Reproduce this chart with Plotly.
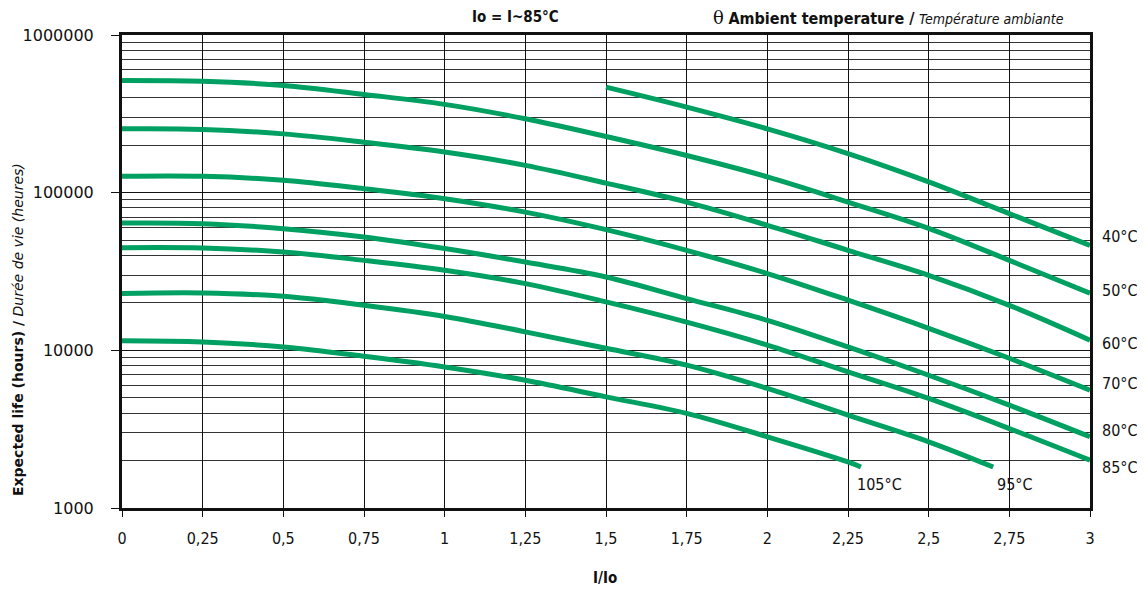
import plotly.graph_objects as go

# ---- data ----
x_full = [0, 0.25, 0.5, 0.75, 1.0, 1.25, 1.5, 1.75, 2.0, 2.25, 2.5, 2.75, 3.0]

x_40 = [1.5, 1.75, 2.0, 2.25, 2.5, 2.75, 3.0]
life_40 = [467000, 349000, 254000, 177000, 117000, 73600, 46300]

life_50 = [515000, 509000, 479000, 420000, 363000, 294000, 227000, 172000, 126000, 87200, 59400, 37200, 23000]
life_60 = [254000, 252000, 236000, 209000, 181000, 149000, 115000, 87200, 62100, 43100, 29900, 19300, 11600]
life_70 = [127000, 127000, 120000, 106000, 91600, 75300, 58300, 43100, 30700, 20800, 13800, 8910, 5590]
life_80 = [64200, 63600, 59100, 52300, 44200, 36300, 29200, 21300, 15500, 10500, 6950, 4490, 2830]
life_85 = [44800, 44600, 42000, 37200, 32200, 26500, 20300, 15100, 10800, 7300, 4950, 3190, 2010]

x_95 = [0, 0.25, 0.5, 0.75, 1.0, 1.25, 1.5, 1.75, 2.0, 2.25, 2.5, 2.7]
life_95 = [22900, 23100, 22000, 19300, 16400, 13100, 10300, 8050, 5730, 3880, 2630, 1820]

x_105 = [0, 0.25, 0.5, 0.75, 1.0, 1.25, 1.5, 1.75, 2.0, 2.25, 2.29]
life_105 = [11500, 11300, 10500, 9180, 7850, 6460, 5070, 3980, 2830, 1960, 1820]

x_ticks = [0, 0.25, 0.5, 0.75, 1, 1.25, 1.5, 1.75, 2, 2.25, 2.5, 2.75, 3]
x_tick_text = ["0", "0,25", "0,5", "0,75", "1", "1,25", "1,5", "1,75", "2", "2,25", "2,5", "2,75", "3"]
y_ticks = [1000, 10000, 100000, 1000000]
y_tick_text = ["1000", "10000", "100000", "1000000"]

right_labels = ["40°C", "50°C", "60°C", "70°C", "80°C", "85°C"]

GREEN = "#00A062"
COND = "DejaVu Sans Condensed, Liberation Sans Narrow, Roboto, sans-serif"

series = [
    (x_40, life_40), (x_full, life_50), (x_full, life_60), (x_full, life_70),
    (x_full, life_80), (x_full, life_85), (x_95, life_95), (x_105, life_105),
]

fig = go.Figure()
for xs, ys in series:
    fig.add_trace(go.Scatter(
        x=xs, y=ys, mode="lines",
        line=dict(color=GREEN, width=5, shape="spline", smoothing=1.0),
        showlegend=False, hoverinfo="skip",
    ))

# page body has an 8px margin, so the figure is sized/margined to compensate
fig.update_layout(
    width=1137, height=582,
    margin=dict(l=114, r=55, t=27, b=82),
    paper_bgcolor="white", plot_bgcolor="white",
    showlegend=False,
    font=dict(family=COND, color="#111", size=14),
)

fig.update_xaxes(
    range=[0, 3], tickvals=x_ticks, ticktext=x_tick_text,
    showgrid=True, gridcolor="#111", gridwidth=1,
    ticks="outside", ticklen=6, tickcolor="#111", tickwidth=1,
    showline=True, linecolor="#111", linewidth=3, mirror=True,
    zeroline=False,
    tickfont=dict(family=COND, size=16, color="#111"),
    ticklabelstandoff=8,
)
fig.update_yaxes(
    type="log", range=[3, 6],
    tickvals=y_ticks, ticktext=y_tick_text,
    showgrid=True, gridcolor="#111", gridwidth=1,
    minor=dict(dtick="D1", showgrid=True, gridcolor="#333", gridwidth=1, ticks=""),
    ticks="outside", ticklen=8, tickcolor="#111", tickwidth=1,
    showline=True, linecolor="#111", linewidth=3, mirror=True,
    zeroline=False,
    tickfont=dict(family="DejaVu Sans, sans-serif", size=16, color="#111"),
    ticklabelstandoff=14,
)

def px_x(px):
    return (px - 122) / 968

def px_y(py):
    return (508 - py) / 473

# right-hand temperature labels
right_y_px = [237, 290, 343, 383, 431, 467]
for txt, ypx in zip(right_labels, right_y_px):
    fig.add_annotation(
        text=txt, xref="paper", yref="paper",
        x=px_x(1100), y=px_y(ypx),
        xanchor="left", yanchor="middle", showarrow=False,
        font=dict(family=COND, size=16, color="#111"),
    )

# in-plot labels for 105 and 95
fig.add_annotation(text="105°C", xref="paper", yref="paper",
                   x=px_x(855), y=px_y(484),
                   xanchor="left", yanchor="middle", showarrow=False,
                   font=dict(family=COND, size=16, color="#111"))
fig.add_annotation(text="95°C", xref="paper", yref="paper",
                   x=px_x(995), y=px_y(484),
                   xanchor="left", yanchor="middle", showarrow=False,
                   font=dict(family=COND, size=16, color="#111"))

# titles
fig.add_annotation(text="<b>Io = I~85°C</b>", xref="paper", yref="paper",
                   x=px_x(515), y=px_y(17),
                   xanchor="center", yanchor="middle", showarrow=False,
                   font=dict(family=COND, size=15, color="#111"))
fig.add_annotation(
    text='<span style="font-family:DejaVu Serif;font-size:18px">θ</span> '
         '<b>Ambient temperature /</b> '
         '<i><span style="font-size:14px">Température ambiante</span></i>',
    xref="paper", yref="paper",
    x=px_x(1066), y=px_y(17),
    xanchor="right", yanchor="middle", showarrow=False,
    font=dict(family=COND, size=16, color="#111"))
fig.add_annotation(
    text='<b>Expected life (hours) /</b> '
         '<i><span style="font-size:14px">Durée de vie (heures)</span></i>',
    xref="paper", yref="paper",
    x=px_x(18), y=px_y(330),
    xanchor="center", yanchor="middle", textangle=-90, showarrow=False,
    font=dict(family="DejaVu Sans, sans-serif", size=14, color="#111"))
fig.add_annotation(text="<b>I/Io</b>", xref="paper", yref="paper",
                   x=px_x(605), y=px_y(578),
                   xanchor="center", yanchor="middle", showarrow=False,
                   font=dict(family=COND, size=15, color="#111"))

fig.write_html("out.html")
